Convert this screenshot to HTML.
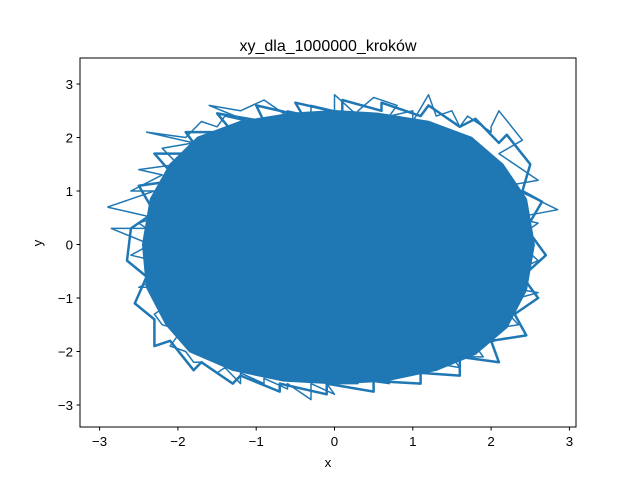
<!DOCTYPE html>
<html><head><meta charset="utf-8"><style>
body{margin:0;background:#fff}
svg text{font-family:"Liberation Sans","DejaVu Sans",sans-serif;fill:#000}
</style></head><body>
<svg id="c" width="640" height="480" xmlns="http://www.w3.org/2000/svg">
<rect width="640" height="480" fill="#fff"/>
<g id="plot"></g>
<rect x="80" y="58" width="496" height="369" fill="none" stroke="#000" stroke-width="1"/>
<g id="ticks"></g>
<text x="328" y="51" font-size="16" text-anchor="middle">xy_dla_1000000_kroków</text>
<text x="328" y="467" font-size="13.3" text-anchor="middle">x</text>
<text x="42" y="243" font-size="13.3" text-anchor="middle" transform="rotate(-90 42 243)">y</text>
</svg>
<script>
const xTicks=[-3,-2,-1,0,1,2,3];
const yTicks=[-3,-2,-1,0,1,2,3];
const coreX=[-2.45,-2.35,-2.1,-1.75,-1.2,-0.55,0,0.55,1.2,1.75,2.15,2.45,2.55,2.45,2.2,1.8,1.3,0.65,0,-0.65,-1.3,-1.85,-2.15,-2.4];
const coreY=[0,0.85,1.5,2.0,2.3,2.45,2.5,2.45,2.3,2.0,1.5,0.85,0,-0.85,-1.55,-2.05,-2.35,-2.55,-2.6,-2.55,-2.35,-2.0,-1.5,-0.8];
const innerX=[-2.6,-2.3,-2.5,-2.0,-2.3,-1.7,-1.9,-1.3,-1.5,-0.9,-1.0,-0.4,-0.5,0.1,0.1,0.6,0.6,1.1,1.2,1.6,1.8,2.1,2.2,2.5,2.4,2.65,2.45,2.7,2.4,2.6,2.3,2.45,2.0,2.1,1.6,1.6,1.1,1.1,0.5,0.5,-0.1,-0.1,-0.7,-0.7,-1.2,-1.3,-1.7,-1.8,-2.1,-2.3,-2.3,-2.55,-2.4,-2.65,-2.6];
const innerY=[0.3,0.6,1.1,1.2,1.7,1.7,2.1,2.1,2.45,2.3,2.6,2.4,2.65,2.45,2.7,2.5,2.65,2.4,2.6,2.2,2.35,1.9,2.05,1.5,1.0,0.8,0.3,-0.2,-0.6,-1.0,-1.3,-1.7,-1.8,-2.2,-2.1,-2.45,-2.4,-2.6,-2.55,-2.75,-2.6,-2.8,-2.6,-2.75,-2.45,-2.6,-2.2,-2.35,-1.8,-1.9,-1.4,-1.1,-0.6,-0.3,0.3];
const walkX=[-2.9,-2.3,-2.6,-2.2,-2.5,-2.0,-2.2,-1.8,-2.4,-1.9,-1.7,-1.5,-1.4,-1.1,-1.6,-1.2,-0.9,-0.6,-0.6,-0.3,-0.3,0,0,0.3,0.3,0.5,0.8,0.7,1.0,1.0,1.2,1.3,1.5,1.6,1.7,2.0,2.0,2.1,2.4,2.1,2.3,2.6,2.2,2.5,2.85,2.3,2.6,2.3,2.6,2.3,2.4,2.2,2.6,2.1,2.35,1.9,2.05,1.8,1.9,1.5,1.6,1.2,1.3,0.9,1.0,0.6,0.7,0.2,0.3,-0.1,0,-0.3,-0.3,-0.6,-0.6,-0.9,-0.9,-1.2,-1.2,-1.4,-1.5,-1.7,-1.8,-1.9,-2.1,-2.0,-1.95,-2.2,-2.3,-2.1,-2.2,-2.3,-2.5,-2.2,-2.4,-2.3,-2.6,-2.35,-2.85,-2.4,-2.5,-2.3,-2.9];
const walkY=[0.7,1.0,1.0,1.3,1.4,1.5,1.8,1.9,2.1,2.0,2.3,2.2,2.4,2.3,2.6,2.5,2.7,2.4,2.5,2.4,2.6,2.5,2.8,2.4,2.5,2.75,2.6,2.4,2.5,2.3,2.8,2.4,2.5,2.2,2.4,2.1,2.2,2.5,1.95,1.7,1.5,1.2,1.1,0.9,0.65,0.5,0.4,0.1,-0.3,-0.5,-0.6,-0.8,-0.9,-1.1,-1.5,-1.6,-1.8,-1.9,-2.1,-2.1,-2.3,-2.2,-2.3,-2.3,-2.4,-2.4,-2.6,-2.5,-2.6,-2.6,-2.8,-2.6,-2.9,-2.6,-2.7,-2.5,-2.6,-2.4,-2.6,-2.3,-2.4,-2.2,-2.2,-2.0,-1.9,-1.7,-1.6,-1.5,-1.3,-1.1,-1.0,-0.8,-0.8,-0.6,-0.5,-0.3,-0.2,0,0.3,0.3,0.4,0.5,0.7];
const sx=v=>334.5+v*78.3;
const sy=v=>244.5-v*53.5;
const NS="http://www.w3.org/2000/svg";
const plot=document.getElementById('plot');
const toPts=(xs,ys)=>xs.map((x,i)=>sx(x).toFixed(1)+','+sy(ys[i]).toFixed(1)).join(' ');
const poly=document.createElementNS(NS,'polygon');
poly.setAttribute('points',toPts(coreX,coreY));
poly.setAttribute('fill','#1f77b4');
poly.setAttribute('stroke','#1f77b4');
poly.setAttribute('stroke-width','1.5');
poly.setAttribute('stroke-linejoin','round');


plot.appendChild(poly);
const pi=document.createElementNS(NS,'polyline');
pi.setAttribute('points',toPts(innerX,innerY));
pi.setAttribute('fill','none');
pi.setAttribute('stroke','#1f77b4');
pi.setAttribute('stroke-width','2.5');
pi.setAttribute('stroke-linejoin','round');


plot.appendChild(pi);
const pl=document.createElementNS(NS,'polyline');
pl.setAttribute('points',toPts(walkX,walkY));
pl.setAttribute('fill','none');
pl.setAttribute('stroke','#1f77b4');
pl.setAttribute('stroke-width','1.5');
pl.setAttribute('stroke-linejoin','round');


plot.appendChild(pl);
const tg=document.getElementById('ticks');
xTicks.forEach(t=>{
  const x=sx(t);
  const l=document.createElementNS(NS,'line');
  l.setAttribute('x1',x);l.setAttribute('x2',x);l.setAttribute('y1',427);l.setAttribute('y2',430.5);l.setAttribute('stroke','#000');
  
  
  tg.appendChild(l);
  const tx=document.createElementNS(NS,'text');
  tx.setAttribute('x',x);tx.setAttribute('y',446);tx.setAttribute('font-size','13.3');tx.setAttribute('text-anchor','middle');
  tx.textContent=(t<0?'\u2212'+(-t):t);
  
  
  tg.appendChild(tx);
});
yTicks.forEach(t=>{
  const y=sy(t);
  const l=document.createElementNS(NS,'line');
  l.setAttribute('x1',76.5);l.setAttribute('x2',80);l.setAttribute('y1',y);l.setAttribute('y2',y);l.setAttribute('stroke','#000');
  
  
  tg.appendChild(l);
  const tx=document.createElementNS(NS,'text');
  tx.setAttribute('x',73);tx.setAttribute('y',y+5);tx.setAttribute('font-size','13.3');tx.setAttribute('text-anchor','end');
  tx.textContent=(t<0?'\u2212'+(-t):t);
  
  
  tg.appendChild(tx);
});
</script>
</body></html>
